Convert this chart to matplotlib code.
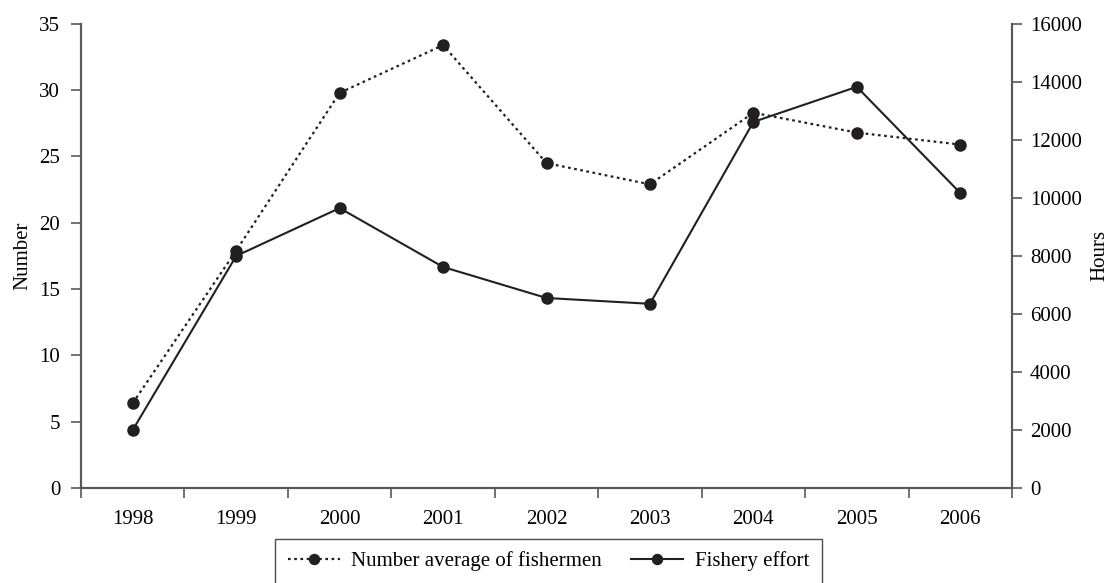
import numpy as np
import matplotlib
matplotlib.use('Agg')
import matplotlib.pyplot as plt

plt.rcParams['font.family'] = ['Liberation Serif', 'DejaVu Serif']

years = ['1998', '1999', '2000', '2001', '2002', '2003', '2004', '2005', '2006']
fishermen = [6.4, 17.9, 29.8, 33.4, 24.5, 22.9, 28.3, 26.8, 25.9]
effort = [2000, 8000, 9650, 7620, 6550, 6350, 12620, 13830, 10170]

ink = '#231f20'
axcol = '#58595b'
fs = 15

fig = plt.figure(figsize=(11.1, 5.83), dpi=100)
ax = fig.add_axes([0.073, 0.163, 0.8387, 0.796])
ax2 = ax.twinx()

x = np.arange(len(years))
l1, = ax.plot(x, fishermen, linestyle=(0, (1.2, 1.6)), color=ink, lw=1.6,
              marker='o', ms=8, label='Number average of fishermen')
l2, = ax2.plot(x, effort, linestyle='-', color=ink, lw=1.5,
               marker='o', ms=8, label='Fishery effort')

ax.set_xlim(-0.5, len(years) - 0.5)
ax.set_ylim(0, 35)
ax2.set_ylim(0, 16000)
ax.set_yticks(np.arange(0, 36, 5))
ax2.set_yticks(np.arange(0, 16001, 2000))

ax.set_xticks(x)
ax.set_xticklabels(years)
ax.set_xticks(np.arange(-0.5, len(years), 1), minor=True)
ax.tick_params(axis='x', which='major', length=0, pad=16, labelsize=fs)
ax.tick_params(axis='x', which='minor', length=7, width=1.2, color=axcol, direction='out')
ax.tick_params(axis='y', length=7, width=1.2, color=axcol, labelsize=fs, pad=8)
ax2.tick_params(axis='y', length=7, width=1.2, color=axcol, labelsize=fs, pad=6)

for a in (ax, ax2):
    a.spines['top'].set_visible(False)
    for s in ('left', 'right', 'bottom'):
        a.spines[s].set_color(axcol)
        a.spines[s].set_linewidth(1.5)

ax.set_ylabel('Number', fontsize=fs)
ax.yaxis.set_label_coords(-0.052, 0.5)
ax2.set_ylabel('Hours', fontsize=fs)
ax2.yaxis.set_label_coords(1.084, 0.5)

leg = fig.legend(handles=[l1, l2], loc='upper center', bbox_to_anchor=(0.494, 0.0755),
                 ncol=2, fontsize=fs, frameon=True, fancybox=False, handlelength=2.5,
                 columnspacing=1.4, borderpad=0.6, handletextpad=0.55, borderaxespad=0,
                 markerscale=0.9)
leg.get_frame().set_edgecolor(ink)
leg.get_frame().set_linewidth(1.0)

plt.savefig('out.png', dpi=100)
